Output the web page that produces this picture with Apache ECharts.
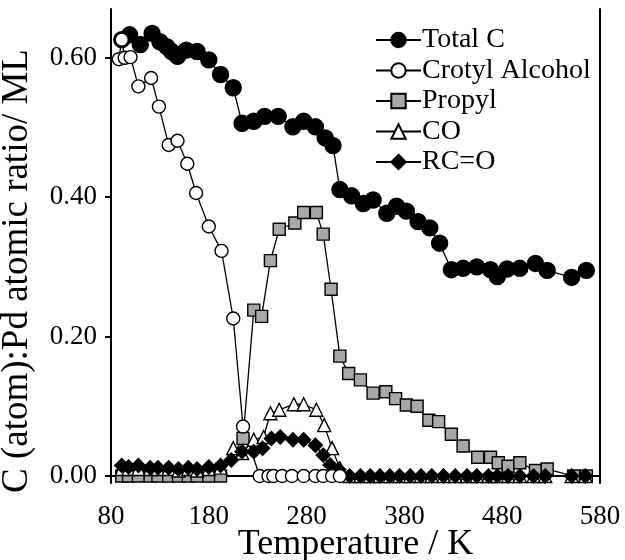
<!DOCTYPE html>
<html>
<head>
<meta charset="utf-8">
<script src="https://cdn.jsdelivr.net/npm/echarts@6/dist/echarts.min.js"></script>
<style>
  html, body { margin: 0; padding: 0; background: #fff; }
  #chart { width: 625px; height: 560px; }
</style>
</head>
<body>
<div id="chart"></div>
<script>
// Surface species coverage versus temperature (K), in C(atom):Pd ratio / ML
const seriesNames = ['Total C', 'Crotyl Alcohol', 'Propyl', 'CO', 'RC=O'];

const totalCTemp = [91, 99, 110, 122, 130, 137, 142, 148, 157, 168, 180, 192, 205, 214, 226, 237, 251, 266, 277, 289, 299, 307, 314, 326, 338, 348, 362, 372, 382, 394, 406, 416, 428, 440, 454, 468, 475, 485, 498, 514, 526, 551, 566];
const totalCVal  = [0.626, 0.633, 0.619, 0.635, 0.623, 0.616, 0.609, 0.602, 0.611, 0.609, 0.597, 0.576, 0.557, 0.506, 0.509, 0.516, 0.516, 0.501, 0.509, 0.501, 0.485, 0.474, 0.411, 0.402, 0.391, 0.396, 0.377, 0.387, 0.380, 0.365, 0.356, 0.334, 0.296, 0.298, 0.300, 0.296, 0.286, 0.297, 0.298, 0.305, 0.295, 0.285, 0.295];

const crotylTemp = [88, 91, 94, 100, 108, 121, 129, 139, 148, 158, 167, 180, 193, 205, 215, 232, 241, 246, 255, 265, 277, 289, 297, 306, 314];
const crotylVal  = [0.598, 0.626, 0.600, 0.601, 0.559, 0.571, 0.530, 0.475, 0.481, 0.448, 0.406, 0.358, 0.323, 0.226, 0.071, 0.000, 0.000, 0.000, 0.000, 0.000, 0.000, 0.000, 0.000, 0.000, 0.000];

const propylTemp = [91, 98, 108, 120, 128, 139, 149, 159, 168, 180, 192, 215, 226, 234, 243, 252, 268, 277, 290, 297, 305, 314, 323, 335, 348, 361, 371, 382, 393, 405, 415, 428, 440, 455, 468, 476, 486, 498, 514, 526, 553, 566];
const propylVal  = [0.000, 0.000, 0.000, 0.000, 0.000, 0.000, 0.000, 0.000, 0.000, 0.000, 0.000, 0.054, 0.238, 0.229, 0.309, 0.354, 0.363, 0.378, 0.378, 0.347, 0.268, 0.172, 0.147, 0.138, 0.119, 0.121, 0.111, 0.102, 0.100, 0.080, 0.078, 0.060, 0.043, 0.027, 0.027, 0.019, 0.014, 0.019, 0.008, 0.010, 0.000, 0.000];

const coTemp = [91, 98, 108, 120, 128, 139, 149, 159, 168, 180, 192, 205, 214, 226, 236, 243, 252, 267, 277, 290, 298, 306, 314, 324, 335, 345, 355, 365, 375, 386, 397, 408, 420, 432, 444, 454, 466, 475, 486, 498, 512, 524, 551, 565];
const coVal  = [0.010, 0.010, 0.010, 0.010, 0.010, 0.010, 0.008, 0.010, 0.008, 0.010, 0.012, 0.040, 0.033, 0.052, 0.056, 0.090, 0.095, 0.103, 0.103, 0.095, 0.073, 0.040, 0.011, 0.000, 0.000, 0.000, 0.000, 0.000, 0.000, 0.000, 0.000, 0.000, 0.000, 0.000, 0.000, 0.000, 0.000, 0.000, 0.000, 0.000, 0.000, 0.000, 0.000, 0.000];

const rcoTemp = [91, 98, 108, 120, 128, 139, 149, 159, 168, 180, 192, 203, 214, 226, 235, 244, 253, 266, 277, 289, 297, 304, 313, 324, 335, 345, 355, 365, 375, 386, 397, 408, 420, 432, 444, 454, 466, 475, 486, 498, 512, 524, 551, 565];
const rcoVal  = [0.015, 0.013, 0.015, 0.012, 0.012, 0.012, 0.010, 0.012, 0.010, 0.013, 0.015, 0.023, 0.035, 0.035, 0.040, 0.054, 0.056, 0.052, 0.052, 0.044, 0.030, 0.016, 0.009, 0.000, 0.000, 0.000, 0.000, 0.000, 0.000, 0.000, 0.000, 0.000, 0.000, 0.000, 0.000, 0.000, 0.000, 0.000, 0.000, 0.000, 0.000, 0.000, 0.000, 0.000];

const xTicks = [80, 180, 280, 380, 480, 580];
const yTicks = [0, 0.2, 0.4, 0.6];

const FONT = 'Liberation Serif';
const pairs = (xs, ys) => xs.map((x, i) => [x, ys[i]]);

function lineSeries(name, xs, ys, symbol, size, fill) {
  return {
    name: name,
    type: 'line',
    data: pairs(xs, ys),
    symbol: symbol,
    symbolSize: size,
    showSymbol: true,
    clip: false,
    lineStyle: { color: '#000', width: 1.3 },
    itemStyle: { color: fill, borderColor: '#000', borderWidth: 1.4 },
    emphasis: { disabled: true }
  };
}

const chart = echarts.init(document.getElementById('chart'), null, { renderer: 'canvas' });

chart.setOption({
  animation: false,
  backgroundColor: '#fff',
  textStyle: { fontFamily: FONT, color: '#000' },
  grid: { left: 111, right: 25, top: 9, bottom: 77, containLabel: false, outerBoundsMode: 'none' },
  legend: {
    data: seriesNames,
    orient: 'vertical',
    left: 375,
    top: 26,
    padding: 0,
    itemWidth: 45,
    itemHeight: 18,
    itemGap: 2.5,
    textStyle: { fontFamily: FONT, fontSize: 28, color: '#000', padding: [0, 0, 0, -4] },
    selectedMode: false
  },
  xAxis: {
    type: 'value',
    min: 80,
    max: 580,
    name: 'Temperature / K',
    nameLocation: 'middle',
    nameGap: 44,
    nameMoveOverlap: false,
    nameTextStyle: { fontFamily: FONT, fontSize: 36, color: '#000' },
    axisLine: { show: true, onZero: true, lineStyle: { color: '#000', width: 2 } },
    axisTick: { show: false },
    axisLabel: {
      customValues: xTicks,
      fontFamily: FONT, fontSize: 27, color: '#000', margin: 20
    },
    splitLine: { show: false }
  },
  yAxis: [{
    type: 'value',
    min: -0.01,
    max: 0.67,
    position: 'left',
    name: 'C (atom):Pd atomic ratio/ ML',
    nameLocation: 'middle',
    nameGap: 75,
    nameMoveOverlap: false,
    nameTextStyle: { fontFamily: FONT, fontSize: 37, color: '#000', padding: [0, 50, 0, 0] },
    axisLine: { show: true, lineStyle: { color: '#000', width: 2 } },
    axisTick: { show: true, customValues: yTicks, length: 6, lineStyle: { color: '#000', width: 2 } },
    axisLabel: {
      customValues: yTicks,
      formatter: v => v.toFixed(2),
      fontFamily: FONT, fontSize: 27, color: '#000', margin: 14
    },
    splitLine: { show: false }
  }, {
    type: 'value',
    min: -0.01,
    max: 0.67,
    position: 'right',
    axisLine: { show: true, lineStyle: { color: '#000', width: 2 } },
    axisTick: { show: false },
    axisLabel: { show: false },
    splitLine: { show: false }
  }],
  series: [
    lineSeries('Total C', totalCTemp, totalCVal, 'circle', 16, '#000'),
    lineSeries('Propyl', propylTemp, propylVal, 'rect', 12, '#a8a8a8'),
    lineSeries('CO', coTemp, coVal, 'triangle', 13, '#fff'),
    lineSeries('RC=O', rcoTemp, rcoVal, 'diamond', 14, '#000'),
    lineSeries('Crotyl Alcohol', crotylTemp, crotylVal, 'circle', 13, '#fff')
  ]
});
</script>
</body>
</html>
